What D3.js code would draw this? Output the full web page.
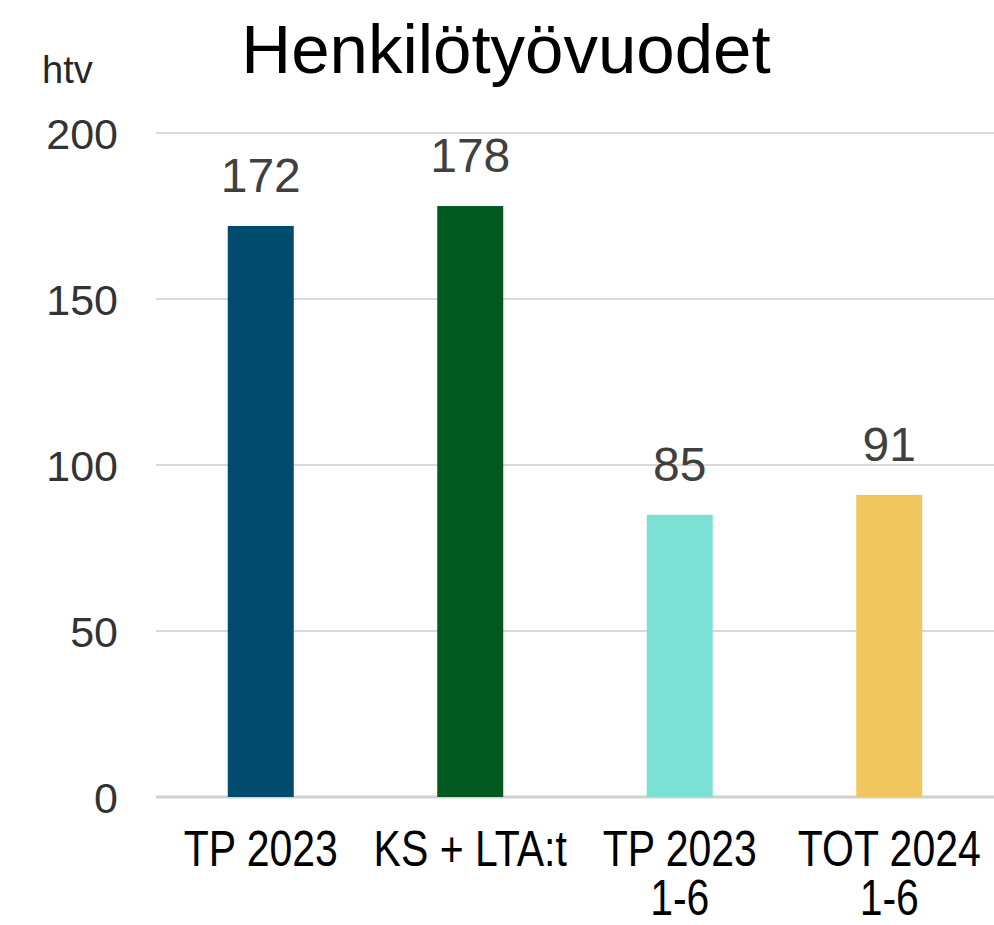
<!DOCTYPE html>
<html>
<head>
<meta charset="utf-8">
<script src="https://cdn.jsdelivr.net/npm/d3@7"></script>
<style>
  body { margin: 0; background: #fff; }
  svg { display: block; }
</style>
</head>
<body>
<div id="chart-area"></div>
<script>
// data
var categories = ["TP 2023", "KS + LTA:t", "TP 2023\n1-6", "TOT 2024\n1-6"];
var values = [172, 178, 85, 91];
var colors = ["#004b6e", "#005a1f", "#7de0d4", "#f0c65e"];
var yTicks = [0, 50, 100, 150, 200];

var arrData = categories.map(function(c, i) {
    return { cat: c, val: values[i], color: colors[i] };
});

var width = 994, height = 925;
var plotLeft = 156, plotRight = 994, plotTop = 133, plotBottom = 797;

var svg = d3.select("#chart-area").append("svg")
    .attr("width", width)
    .attr("height", height);

var x = d3.scaleBand()
    .domain(categories)
    .range([plotLeft, plotRight])
    .paddingInner(0.685)
    .paddingOuter(0.3425);

var y = d3.scaleLinear()
    .domain([0, 200])
    .range([plotBottom, plotTop]);

// title
svg.append("text")
    .attr("x", 506)
    .attr("y", 73)
    .attr("text-anchor", "middle")
    .attr("font-family", "Liberation Sans, Arial, sans-serif")
    .attr("font-size", "69px")
    .attr("fill", "#000")
    .text("Henkilötyövuodet");

// unit label
svg.append("text")
    .attr("x", 42)
    .attr("y", 83)
    .attr("font-family", "Liberation Sans, Arial, sans-serif")
    .attr("font-size", "38px")
    .attr("fill", "#262626")
    .text("htv");

// gridlines
svg.append("g").selectAll("line")
    .data(yTicks)
    .enter().append("line")
    .attr("x1", plotLeft)
    .attr("x2", plotRight)
    .attr("y1", function(d) { return y(d); })
    .attr("y2", function(d) { return y(d); })
    .attr("stroke", function(d) { return d === 0 ? "#d0d0d0" : "#d9d9d9"; })
    .attr("stroke-width", function(d) { return d === 0 ? 3 : 2; });

// y axis labels
var yAxis = d3.axisLeft(y).tickValues(yTicks).tickSize(0).tickPadding(0);
var gy = svg.append("g")
    .attr("transform", "translate(118,0)")
    .call(yAxis);
gy.select(".domain").remove();
gy.selectAll("text")
    .attr("font-family", "Liberation Sans, Arial, sans-serif")
    .attr("font-size", "43px")
    .attr("fill", "#333")
    .attr("dy", "0.36em");

// bars
svg.append("g").selectAll("rect")
    .data(arrData)
    .enter().append("rect")
    .attr("x", function(d) { return x(d.cat); })
    .attr("y", function(d) { return y(d.val); })
    .attr("width", x.bandwidth())
    .attr("height", function(d) { return y(0) - y(d.val); })
    .attr("fill", function(d) { return d.color; });

// value labels
svg.append("g").selectAll("text")
    .data(arrData)
    .enter().append("text")
    .attr("x", function(d) { return x(d.cat) + x.bandwidth() / 2; })
    .attr("y", function(d) { return y(d.val) - 34; })
    .attr("text-anchor", "middle")
    .attr("font-family", "Liberation Sans, Arial, sans-serif")
    .attr("font-size", "48px")
    .attr("fill", "#404040")
    .text(function(d) { return d.val; });

// x axis labels (narrow font look -> squeeze horizontally)
var xl = svg.append("g").selectAll("text")
    .data(arrData)
    .enter().append("text")
    .attr("transform", function(d) {
        return "translate(" + (x(d.cat) + x.bandwidth() / 2) + ",866) scale(0.82,1)";
    })
    .attr("text-anchor", "middle")
    .attr("font-family", "Liberation Sans, Arial, sans-serif")
    .attr("font-size", "50px")
    .attr("fill", "#000");
xl.each(function(d) {
    var lines = d.cat.split("\n");
    var t = d3.select(this);
    lines.forEach(function(l, i) {
        t.append("tspan")
            .attr("x", 0)
            .attr("dy", i === 0 ? 0 : 49)
            .text(l);
    });
});
</script>
</body>
</html>
